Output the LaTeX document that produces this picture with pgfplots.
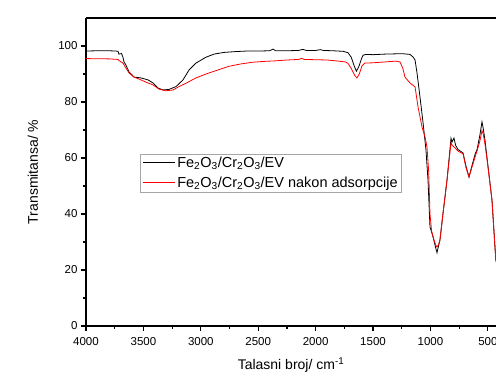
\documentclass[border=0pt]{standalone}
\usepackage{fontspec}
\setmainfont{Liberation Sans}
\usepackage{pgfplots}
\pgfplotsset{compat=1.18}
\begin{document}
\begin{tikzpicture}
\begin{axis}[
  scale only axis, width=410pt, height=308pt,
  x dir=reverse, xmin=429, xmax=4000, ymin=0, ymax=110,
  axis x line*=bottom, axis y line*=left,
  axis line style={line width=1.5pt},
  xtick={500,1000,1500,2000,2500,3000,3500,4000},
  ytick={0,20,40,60,80,100},
  minor x tick num=1, minor y tick num=1,
  tick align=outside,
  major tick length=5pt, minor tick length=3pt,
  every tick/.style={black, line width=1.2pt},
  tick label style={font=\fontsize{11.5}{13}\selectfont},
  xticklabel style={yshift=-3pt},
  /pgf/number format/assume math mode=true,
  /pgf/number format/1000 sep={},
  xlabel={Talasni broj/ cm\textsuperscript{-1}},
  ylabel={Transmitansa/ \%},
  label style={font=\fontsize{14}{16}\selectfont},
  xlabel style={at={(axis description cs:0.5,0)}, anchor=base, yshift=-44pt},
  ylabel style={at={(axis description cs:0,0.5)}, anchor=center, yshift=53pt},
  legend style={at={(axis description cs:0.132,0.56)}, anchor=north west,
    draw=gray!70, line width=0.6pt, font=\fontsize{14.5}{16}\selectfont,
    inner xsep=2pt, inner ysep=1pt, row sep=4pt},
  legend cell align=left,
  legend image code/.code={\draw[#1, line width=0.9pt] (0pt,0pt) -- (32pt,0pt);},
]
\addplot[black, line width=0.8pt] coordinates {
(4000,98.2)(3900,98.3)(3800,98.3)(3740,98.2)(3721,98.1)(3713,97.1)(3690,97.3)
(3678,96.0)(3669,94.3)(3652,93.2)(3625,90.7)(3582,88.9)(3521,88.6)(3460,87.9)
(3416,86.8)(3373,85.0)(3329,84.3)(3277,84.5)(3216,85.5)(3155,87.9)(3103,91.4)
(3042,93.9)(2955,96.0)(2885,97.1)(2800,97.7)(2700,98.0)(2600,98.2)(2500,98.2)
(2400,98.3)(2370,98.9)(2350,98.3)(2250,98.3)(2150,98.4)(2110,98.8)(2080,98.4)
(2000,98.4)(1960,98.7)(1930,98.4)(1850,98.3)(1760,98.1)(1718,97.6)(1690,96.0)
(1665,93.0)(1645,91.0)(1625,92.5)(1600,95.5)(1587,96.7)(1560,97.0)(1500,96.9)
(1400,97.1)(1300,97.2)(1230,97.2)(1178,97.0)(1150,96.0)(1134,95.0)(1117,90.4)
(1091,81.8)(1064,72.5)(1039,62.9)(1021,52.0)(1004,35.4)(977,31.8)(955,28.0)
(943,26.2)(930,28.5)(917,30.7)(890,40.4)(856,52.0)(830,63.0)(821,67.0)
(812,65.7)(795,67.1)(780,64.5)(760,63.0)(740,62.5)(716,61.8)(690,57.0)
(664,53.2)(640,57.0)(610,61.5)(594,63.0)(570,68.0)(551,72.9)(540,70.5)
(525,66.4)(507,60.0)(498,56.8)(464,45.0)(438,28.2)(429,23.0)
};
\addlegendentry{Fe\textsubscript{2}O\textsubscript{3}/Cr\textsubscript{2}O\textsubscript{3}/EV}
\addplot[red, line width=0.8pt] coordinates {
(4000,95.5)(3800,95.4)(3721,95.2)(3713,94.8)(3678,93.9)(3652,92.1)(3625,90.4)
(3582,88.9)(3539,88.2)(3478,87.1)(3416,86.1)(3364,84.6)(3303,84.0)(3242,84.3)
(3190,85.5)(3129,86.7)(3042,88.6)(2955,90.0)(2868,91.2)(2750,92.8)(2650,93.6)
(2550,94.2)(2450,94.5)(2350,94.7)(2250,95.0)(2150,95.2)(2120,95.6)(2100,95.2)
(2000,95.1)(1900,95.0)(1800,94.6)(1740,94.3)(1718,93.8)(1690,92.0)(1660,89.5)
(1640,88.6)(1620,90.0)(1595,93.0)(1570,93.9)(1500,94.0)(1400,94.3)(1300,94.6)
(1265,94.3)(1240,92.0)(1222,88.9)(1178,86.8)(1134,85.4)(1108,78.2)(1073,71.0)
(1047,67.5)(1030,63.9)(1015,55.0)(1004,40.0)(990,34.0)(977,31.8)(955,29.0)
(943,28.2)(930,29.0)(917,30.7)(890,40.4)(856,52.0)(830,62.0)(821,65.4)
(810,64.5)(786,63.6)(760,62.5)(740,62.0)(716,61.5)(690,56.5)(664,53.2)
(640,56.5)(610,60.5)(594,62.5)(570,66.0)(551,69.8)(540,68.5)(525,65.0)
(507,59.5)(498,56.5)(464,45.0)(438,28.2)(429,23.0)
};
\addlegendentry{Fe\textsubscript{2}O\textsubscript{3}/Cr\textsubscript{2}O\textsubscript{3}/EV nakon adsorpcije}
\draw[line width=1.5pt] (rel axis cs:0,1) -- (rel axis cs:1,1);
\coordinate (sw) at (rel axis cs:0,0);
\coordinate (ne) at (rel axis cs:1,1);
\end{axis}
\pgfresetboundingbox
\path[use as bounding box] ([xshift=-86pt,yshift=-46pt]sw) rectangle ([yshift=18pt]ne);
\end{tikzpicture}
\end{document}
